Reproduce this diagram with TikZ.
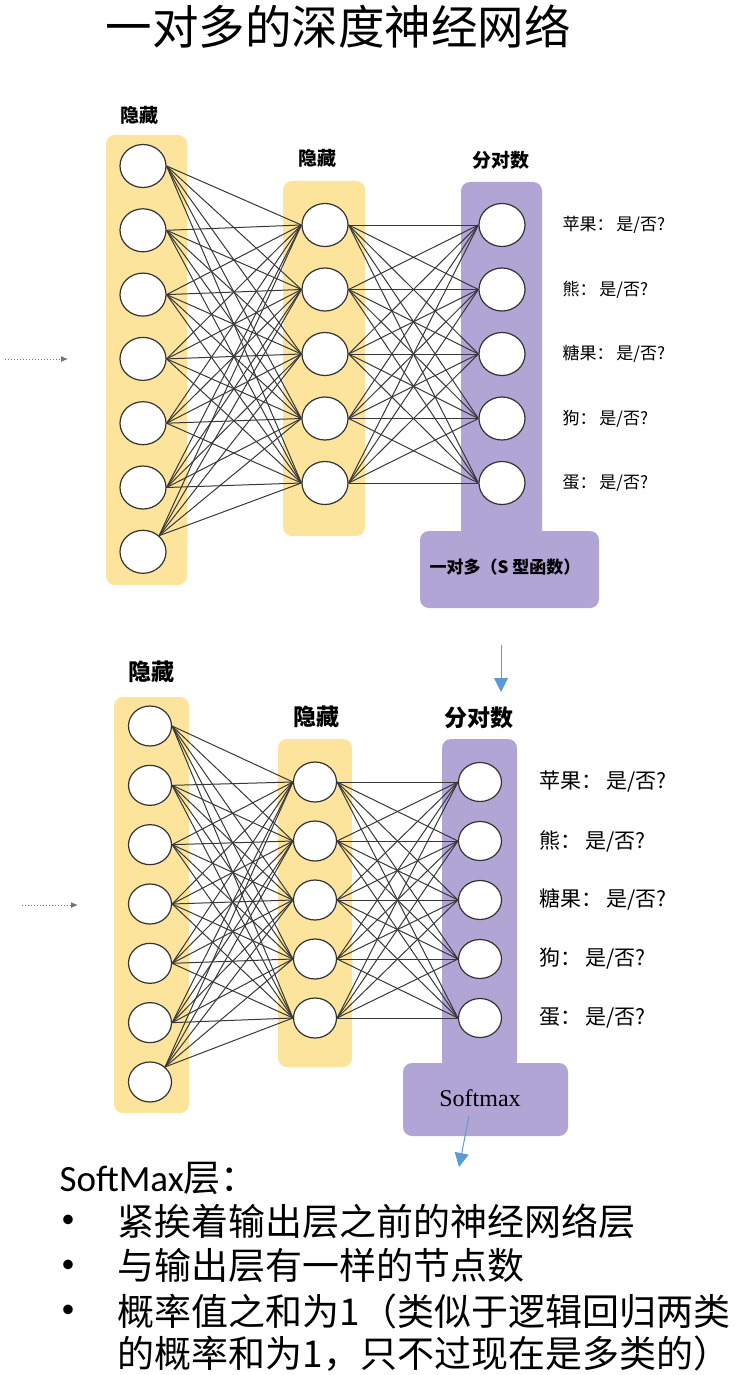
\documentclass[tikz,border=0pt]{standalone}
\usepackage{fontspec}
\setmainfont{Noto Sans CJK SC}
\newfontfamily\carlito{Carlito}
\newfontfamily\tnr{Liberation Serif}
\usetikzlibrary{shapes.geometric,arrows.meta}
\definecolor{hyel}{HTML}{FCE49C}
\definecolor{hpur}{HTML}{B1A5D6}
\definecolor{harrow}{HTML}{5B9BD5}
\definecolor{hline}{HTML}{383838}
\pgfdeclarelayer{bg}
\pgfdeclarelayer{edges}
\pgfsetlayers{bg,edges,main}
\begin{document}
\begin{tikzpicture}[x=1pt,y=-1pt,
  topn/.style={ellipse,draw=black!80,line width=1.2pt,fill=white,inner sep=0pt,minimum width=46pt,minimum height=43pt},
  botn/.style={topn,minimum width=43pt,minimum height=40pt},
  conn/.style={draw=hline,line width=1pt},
  ybox/.style={fill=hyel,rounded corners=9pt},
  pbox/.style={fill=hpur,rounded corners=9pt},
  hdrA/.style={font=\bfseries\fontsize{19}{22}\selectfont},
  labA/.style={anchor=west,font=\fontsize{17}{20}\selectfont},
  hdrB/.style={font=\bfseries\fontsize{23}{26}\selectfont},
  labB/.style={anchor=west,font=\fontsize{21}{24}\selectfont},
  inarrow/.style={draw=black!55,dotted,line width=1pt,-{Latex[length=7pt,width=6pt]}},
  bluearrow/.style={draw=harrow,line width=1pt,-{Triangle[length=14pt,width=14pt]}},
  bodytext/.style={anchor=west,font=\fontsize{37}{44}\selectfont},
  bullet/.style={font=\carlito\fontsize{27}{30}\selectfont}
]
\useasboundingbox (0,0) rectangle (738,1375);

% title
\node (title) at (338,27) {\fontsize{46.5}{50}\selectfont 一对多的深度神经网络};

% ---------- top network ----------
\begin{pgfonlayer}{bg}
  \fill[ybox] (106,135) rectangle (187,585);
  \fill[ybox] (283,181) rectangle (365,536);
  \fill[pbox] (461,182) rectangle (542,540);
  \fill[pbox] (420,531) rectangle (599,608);
\end{pgfonlayer}
\node[hdrA] (TH1) at (139,115) {隐藏};
\node[hdrA] (TH2) at (317,158) {隐藏};
\node[hdrA] (TH3) at (501,160) {分对数};
\foreach \i in {1,...,7}{\node[topn] (TL\i) at (143,{166+64.3*(\i-1)}) {};}
\foreach \j in {1,...,5}{
  \node[topn] (TM\j) at (325,{225+64.5*(\j-1)}) {};
  \node[topn] (TR\j) at (502,{225+64.5*(\j-1)}) {};
}
\begin{pgfonlayer}{edges}
\foreach \j in {1,...,5}{
  \foreach \i in {1,...,6}{\draw[conn] (TL\i.east) -- (TM\j.west);}
  \draw[conn] (TL7.45) -- (TM\j.west);
  \foreach \k in {1,...,5}{\draw[conn] (TM\j.east) -- (TR\k.west);}
}
\end{pgfonlayer}
\foreach \j/\t in {1/苹果,2/熊,3/糖果,4/狗,5/蛋}{
  \node[labA] (TLab\j) at (559,{225+64.5*(\j-1)}) {\t：\,是/否?};
}
\node[font=\bfseries\fontsize{17}{20}\selectfont] (TSig) at (505,567) {一对多（S 型函数）};
\coordinate (TinA) at (5,359);
\coordinate (TinB) at (68,359);
\draw[inarrow] (TinA) -- (TinB);

% arrow between
\coordinate (MidA) at (501,645);
\coordinate (MidB) at (501,692);
\draw[bluearrow] (MidA) -- (MidB);

% ---------- bottom network ----------
\begin{pgfonlayer}{bg}
  \fill[ybox] (114,697) rectangle (189,1113);
  \fill[ybox] (278,739) rectangle (352,1067);
  \fill[pbox] (442,739) rectangle (517,1070);
  \fill[pbox] (403,1063) rectangle (568,1136);
\end{pgfonlayer}
\node[hdrB] (BH1) at (151,672) {隐藏};
\node[hdrB] (BH2) at (316,717) {隐藏};
\node[hdrB] (BH3) at (479,718) {分对数};
\foreach \i in {1,...,7}{\node[botn] (BL\i) at (150,{726+59.33*(\i-1)}) {};}
\foreach \j in {1,...,5}{
  \node[botn] (BM\j) at (315,{782+59*(\j-1)}) {};
  \node[botn,minimum height=39pt] (BR\j) at (480,{782+59*(\j-1)}) {};
}
\begin{pgfonlayer}{edges}
\foreach \j in {1,...,5}{
  \foreach \i in {1,...,6}{\draw[conn] (BL\i.east) -- (BM\j.west);}
  \draw[conn] (BL7.45) -- (BM\j.west);
  \foreach \k in {1,...,5}{\draw[conn] (BM\j.east) -- (BR\k.west);}
}
\end{pgfonlayer}
\foreach \j/\t in {1/苹果,2/熊,3/糖果,4/狗,5/蛋}{
  \node[labB] (BLab\j) at (536,{782+59*(\j-1)}) {\t：\,是/否?};
}
\node[font=\tnr\fontsize{24}{28}\selectfont] (BSoft) at (480,1098) {Softmax};
\coordinate (BinA) at (22,905);
\coordinate (BinB) at (78,905);
\draw[inarrow] (BinA) -- (BinB);
\coordinate (OutA) at (469,1116);
\coordinate (OutB) at (459,1167);
\draw[bluearrow] (OutA) -- (OutB);

% ---------- text ----------
\node[bodytext] (S0) at (56,1178) {{\carlito SoftMax}层：};
\node[bullet] (D1) at (68,1221) {•};
\node[bullet] (D2) at (68,1266) {•};
\node[bullet] (D3) at (68,1311) {•};
\node[bodytext] (S1) at (114,1221) {紧挨着输出层之前的神经网络层};
\node[bodytext] (S2) at (114,1266) {与输出层有一样的节点数};
\node[bodytext] (S3) at (114,1311) {概率值之和为1（类似于逻辑回归两类};
\node[bodytext] (S4) at (114,1354) {的概率和为1，只不过现在是多类的）};
\end{tikzpicture}
\end{document}
